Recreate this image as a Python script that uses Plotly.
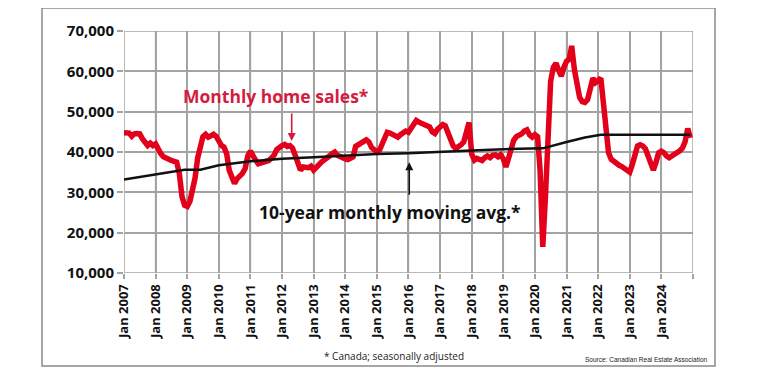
import pandas as pd
import plotly.graph_objects as go

# ---- data (thousands of units, seasonally adjusted) ----
sales_start = "2007-01-01"
sales_2007 = [44.8, 44.6, 44.7, 43.9, 44.5, 44.6, 44.5, 43.3, 42.3, 41.6, 42.2, 41.6]
sales_2008 = [42.0, 40.5, 39.6, 38.8, 38.4, 38.1, 37.9, 37.7, 37.5, 34.7, 29.0, 26.8]
sales_2009 = [26.5, 27.8, 30.0, 33.5, 38.5, 42.0, 43.8, 44.4, 43.7, 44.0, 44.4, 43.9]
sales_2010 = [42.5, 41.6, 41.2, 39.6, 35.5, 33.5, 32.2, 33.4, 34.0, 34.7, 35.9, 39.0]
sales_2011 = [40.2, 38.8, 38.0, 37.1, 37.3, 37.5, 37.7, 37.9, 38.5, 39.2, 40.6, 41.2]
sales_2012 = [41.6, 41.9, 41.4, 41.6, 41.0, 39.2, 37.5, 35.5, 36.3, 36.2, 36.1, 36.5]
sales_2013 = [35.5, 36.2, 37.1, 37.5, 38.0, 38.4, 39.0, 39.6, 40.0, 39.2, 38.8, 38.4]
sales_2014 = [38.3, 38.1, 38.4, 38.8, 41.4, 41.8, 42.1, 42.6, 43.0, 42.5, 41.1, 40.6]
sales_2015 = [40.0, 40.5, 42.0, 43.3, 44.9, 44.7, 44.3, 44.1, 43.7, 44.3, 44.8, 45.2]
sales_2016 = [44.9, 45.8, 46.8, 47.8, 47.4, 47.0, 46.8, 46.5, 46.2, 45.0, 44.6, 45.6]
sales_2017 = [46.3, 46.8, 46.5, 45.0, 42.8, 41.5, 40.9, 41.2, 41.8, 42.5, 44.5, 47.3]
sales_2018 = [39.5, 38.0, 38.4, 38.2, 37.9, 38.6, 39.0, 38.6, 39.2, 39.3, 38.8, 39.3]
sales_2019 = [38.3, 36.3, 38.5, 40.5, 42.9, 43.8, 44.1, 44.5, 45.2, 45.5, 44.2, 43.7]
sales_2020 = [44.3, 43.8, 35.5, 16.5, 28.5, 45.0, 57.5, 61.0, 62.0, 60.3, 58.8, 61.0]
sales_2021 = [62.5, 63.0, 66.3, 60.5, 56.0, 53.5, 52.5, 52.3, 53.0, 56.5, 58.3, 57.2]
sales_2022 = [58.0, 58.3, 52.5, 45.0, 39.8, 38.2, 37.6, 37.0, 36.7, 36.4, 35.9, 35.5]
sales_2023 = [35.0, 37.0, 39.8, 41.5, 41.8, 41.5, 40.8, 39.0, 37.0, 35.5, 37.5, 39.8]
sales_2024 = [40.2, 39.8, 39.0, 38.6, 39.0, 39.4, 39.8, 40.3, 41.0, 42.5, 45.8, 43.5]

avg_dates = ["2007-01-01", "2008-01-01", "2008-12-01", "2009-06-01", "2010-01-01",
             "2011-01-01", "2012-01-01", "2013-01-01", "2014-01-01", "2015-01-01",
             "2016-01-01", "2017-01-01", "2018-01-01", "2019-01-01", "2020-04-01",
             "2021-01-01", "2021-08-01", "2022-02-01", "2024-12-01"]
avg_values = [33.2, 34.5, 35.6, 35.6, 36.7, 37.7, 38.3, 38.7, 39.1, 39.5,
              39.7, 40.1, 40.4, 40.7, 40.9, 42.5, 43.6, 44.3, 44.3]

year_ticks = list(range(2007, 2026))
y_ticks = [10000, 20000, 30000, 40000, 50000, 60000, 70000]

sales_all = (sales_2007 + sales_2008 + sales_2009 + sales_2010 + sales_2011 + sales_2012
             + sales_2013 + sales_2014 + sales_2015 + sales_2016 + sales_2017 + sales_2018
             + sales_2019 + sales_2020 + sales_2021 + sales_2022 + sales_2023 + sales_2024)
sales_dates = pd.date_range(sales_start, periods=len(sales_all), freq="MS")

RED_LINE = "#e2001a"
RED_TEXT = "#d31c3e"
GRID = "#a3a3a3"
FONT = "Open Sans"

# page is rendered with the browser's default 8px body margin
OFF = 8
PAGE_W, PAGE_H = 759, 380
W, H = PAGE_W - OFF, PAGE_H - OFF
PLOT_LEFT, PLOT_RIGHT, PLOT_TOP, PLOT_BOTTOM = 124, 693, 31, 273  # page pixels
L = PLOT_LEFT - OFF
T = PLOT_TOP - OFF
R = W - (PLOT_RIGHT - OFF)
B = H - (PLOT_BOTTOM - OFF)
pw, ph = W - L - R, H - T - B


def px(xpage):
    return (xpage - PLOT_LEFT) / pw


def py(ypage):
    return (PLOT_BOTTOM - ypage) / ph


fig = go.Figure()
fig.add_trace(go.Scatter(x=sales_dates, y=[v * 1000 for v in sales_all], mode="lines",
                         line=dict(color=RED_LINE, width=5.5), hoverinfo="skip"))
fig.add_trace(go.Scatter(x=pd.to_datetime(avg_dates), y=[v * 1000 for v in avg_values],
                         mode="lines", line=dict(color="#111111", width=2.5), hoverinfo="skip"))

tickvals_x = [f"{y}-01-01" for y in year_ticks]
ticktext_x = [f"Jan {y}" if y < 2025 else "" for y in year_ticks]

fig.update_xaxes(type="date", range=["2007-01-01", "2025-01-01"], tickmode="array",
                 tickvals=tickvals_x, ticktext=ticktext_x, tickangle=-90,
                 showgrid=True, gridcolor=GRID, gridwidth=1.5,
                 showline=False,
                 ticks="outside", ticklen=5, tickcolor=GRID, tickwidth=1.5,
                 tickfont=dict(family=FONT, size=13, color="#111111", weight="bold"),
                 zeroline=False, automargin=False)
fig.update_yaxes(range=[10000, 70000], tickmode="array", tickvals=y_ticks,
                 ticktext=[f"{v:,}" for v in y_ticks],
                 showgrid=True, gridcolor=GRID, gridwidth=1.5,
                 showline=False,
                 ticks="outside", ticklen=6, tickcolor=GRID, tickwidth=1.5,
                 tickfont=dict(family=FONT, size=15, color="#111111", weight="bold"),
                 zeroline=False, automargin=False)

# grid drawn as shapes from the tick arrays (placed through the axes' own scales)
for ty in year_ticks:
    fig.add_shape(type="line", xref="x", yref="paper", x0=f"{ty}-01-01", x1=f"{ty}-01-01",
                  y0=0, y1=1, line=dict(color=GRID, width=1.5), layer="below")
for tv in y_ticks:
    fig.add_shape(type="line", xref="paper", yref="y", x0=0, x1=1, y0=tv, y1=tv,
                  line=dict(color=GRID, width=1.5), layer="below")

fig.add_shape(type="rect", xref="paper", yref="paper",
              x0=px(42), x1=px(715), y0=py(366), y1=py(8),
              line=dict(color="#8a8a8a", width=1.5))

annotations = [
    dict(text="Monthly home sales*", x=px(275), y=py(96), xref="paper", yref="paper",
         xanchor="center", yanchor="middle", showarrow=False,
         font=dict(family=FONT, size=17.5, color=RED_TEXT, weight="bold")),
    dict(text="10-year monthly moving avg.*", x=px(390), y=py(211.5), xref="paper", yref="paper",
         xanchor="center", yanchor="middle", showarrow=False,
         font=dict(family=FONT, size=17.5, color="#111111", weight="bold")),
    dict(text="", x="2012-04-22", y=42700, xref="x", yref="y", ax=0, ay=-29,
         showarrow=True, arrowhead=2, arrowsize=1, arrowwidth=1.6, arrowcolor=RED_TEXT),
    dict(text="", x="2016-01-10", y=37450, xref="x", yref="y", ax=0, ay=34,
         showarrow=True, arrowhead=2, arrowsize=1, arrowwidth=1.6, arrowcolor="#111111"),
    dict(text="* Canada; seasonally adjusted", x=px(393.5), y=py(356), xref="paper", yref="paper",
         xanchor="center", yanchor="middle", showarrow=False,
         font=dict(family=FONT, size=10, color="#222222")),
    dict(text="Source: Canadian Real Estate Association", x=px(710), y=py(359),
         xref="paper", yref="paper", xanchor="right", yanchor="middle", showarrow=False,
         font=dict(family="Liberation Sans", size=6.5, color="#222222")),
]

fig.update_layout(width=W, height=H, margin=dict(l=L, r=R, t=T, b=B, pad=0),
                  paper_bgcolor="white", plot_bgcolor="white", showlegend=False,
                  annotations=annotations)

fig.write_html("out.html", config={"displayModeBar": False})
